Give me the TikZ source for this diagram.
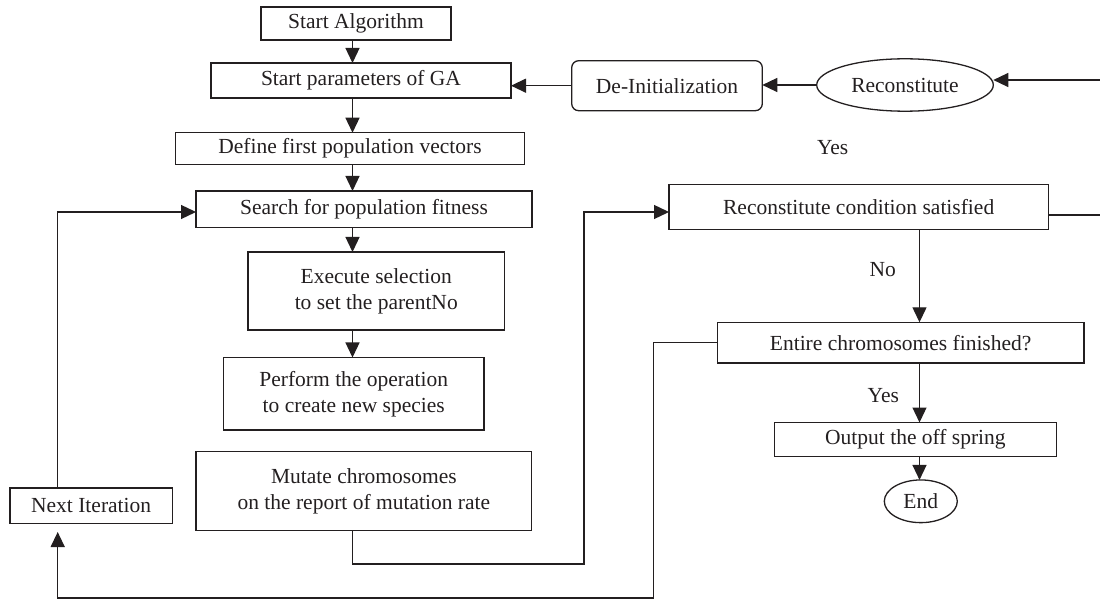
\documentclass[tikz,border=0pt]{standalone}
\usepackage{fontspec}
\setmainfont{Liberation Serif}
\usetikzlibrary{arrows.meta,shapes.geometric}
\definecolor{ink}{HTML}{231F20}
\begin{document}
\begin{tikzpicture}[x=1pt,y=-1pt,
  font=\fontsize{21.5}{26}\selectfont,
  every node/.style={inner sep=0pt, outer sep=0pt, text=ink},
  box/.style={draw=ink, line width=1.3pt, align=center},
  rbox/.style={box, rounded corners=7pt},
  oval/.style={draw=ink, line width=1.3pt, ellipse, align=center},
  ln/.style={draw=ink, line width=1.3pt},
  arr/.style={ln, -{Triangle[length=15pt,width=14pt]}},
  lbl/.style={font=\fontsize{21.5}{26}\selectfont}
]
\useasboundingbox (0,0) rectangle (1100,601);

% left column
\node[box, minimum width=190, minimum height=33] (start) at (356,23.5) {Start Algorithm};
\node[box, minimum width=300, minimum height=35] (params) at (361,80.5) {Start parameters of GA};
\node[box, minimum width=349, minimum height=31.5] (define) at (350,148.5) {Define first population vectors};
\node[box, minimum width=336, minimum height=36.5] (search) at (364,209.25) {Search for population fitness};
\node[box, minimum width=256.5, minimum height=78] (execute) at (376.25,291) {Execute selection\\to set the parentNo};
\node[box, minimum width=260.5, minimum height=72.5] (perform) at (353.75,393.75) {Perform the operation\\to create new species};
\node[box, minimum width=335.7, minimum height=79] (mutate) at (363.85,491.2) {Mutate chromosomes\\on the report of mutation rate};
\node[box, minimum width=162.3, minimum height=35.3] (nextit) at (91.15,505.65) {Next Iteration};

% right part
\node[rbox, minimum width=190.6, minimum height=50] (deinit) at (667,85.7) {De-Initialization};
\node[oval, minimum width=176.6, minimum height=52.4] (recon) at (905,85) {Reconstitute};
\node[lbl] (yes1) at (832.7,147.3) {Yes};
\node[box, minimum width=379.3, minimum height=45.2] (rc) at (858.65,206.9) {Reconstitute condition satisfied};
\node[lbl] (no) at (882.7,270) {No};
\node[box, minimum width=366.7, minimum height=40.7] (entire) at (900.65,342.65) {Entire chromosomes finished?};
\node[lbl] (yes2) at (883.3,396) {Yes};
\node[box, minimum width=282.5, minimum height=34.2] (output) at (915.45,439.6) {Output the off spring};
\node[oval, minimum width=73, minimum height=42.7] (endn) at (920.8,501.3) {End};

% helper coordinates
\coordinate (c1) at (352.5,0);
\coordinate (c2) at (919.5,0);
\coordinate (m1) at (584,564);
\coordinate (m2) at (584,212);
\coordinate (e1) at (653.3,598);
\coordinate (n1) at (57.7,598);
\coordinate (n2) at (57.7,532);
\coordinate (n3) at (57.7,212);
\coordinate (r1) at (1100,215);
\coordinate (r2) at (1100,80);

% left column connectors
\draw[arr] (start.south -| c1) -- (params.north -| c1);
\draw[arr] (params.south -| c1) -- (define.north -| c1);
\draw[arr] (define.south -| c1) -- (search.north -| c1);
\draw[arr] (search.south -| c1) -- (execute.north -| c1);
\draw[arr] (execute.south -| c1) -- (perform.north -| c1);

% mutate -> reconstitute condition
\draw[arr] (mutate.south -| c1) |- (m1) -- (m2) -- (rc.west |- m2);

% loop to next iteration
\draw[arr] (entire.west) -| (e1) -- (n1) -- (n2);
\draw[arr] (nextit.north -| n3) -- (n3) -- (search.west |- n3);

% right column
\draw[arr] (rc.south -| c2) -- (entire.north -| c2);
\draw[arr] (entire.south -| c2) -- (output.north -| c2);
\draw[arr] (output.south -| c2) -- (endn.north -| c2);

% reconstitute loop
\draw[ln] (rc.east |- r1) -- (r1);
\draw[arr] (r2) -- (recon.east |- r2);
\draw[arr] (recon.west) -- (recon.west -| deinit.east);
\draw[arr] (deinit.west) -- (deinit.west -| params.east);
\end{tikzpicture}
\end{document}
